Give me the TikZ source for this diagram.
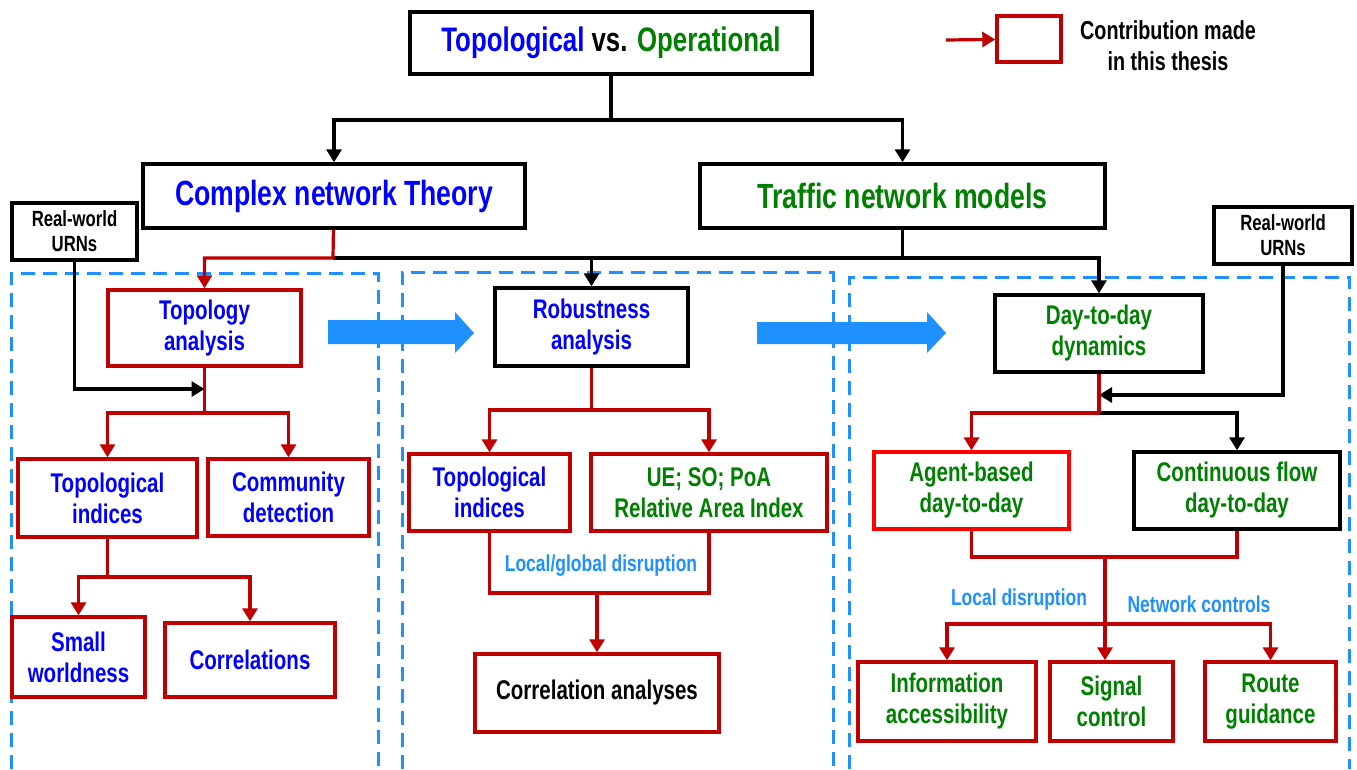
\documentclass[tikz,border=0pt]{standalone}
\usepackage{fontspec}
\setmainfont{Liberation Sans}[FakeStretch=0.76]
\usetikzlibrary{arrows.meta}
\definecolor{dred}{HTML}{C00000}
\definecolor{bred}{HTML}{FF0000}
\definecolor{tblue}{HTML}{0000FF}
\definecolor{tgreen}{HTML}{008000}
\definecolor{lblue}{HTML}{1E90FF}
\tikzset{
  box/.style={draw, line width=3.4pt, inner sep=0pt, align=center, font=\bfseries\fontsize{27}{31}\selectfont},
  rbox/.style={box, draw=dred},
  kbox/.style={box, draw=black},
  ln/.style={line width=3.2pt},
  rl/.style={ln, draw=dred},
  kl/.style={ln, draw=black},
  arr/.style={-{Triangle[length=13pt,width=15pt]}},
  lab/.style={text=lblue, font=\bfseries\fontsize{23}{27}\selectfont},
  region/.style={draw=lblue, line width=3pt, dash pattern=on 14pt off 8pt},
  bigarrow/.style={fill=lblue, draw=none}
}
\begin{document}
\begin{tikzpicture}[x=1pt, y=-1pt]
\useasboundingbox (0,0) rectangle (1357,769);

% dashed regions
\draw[region] (11,769) -- (11,273) -- (378,273) -- (378,769);
\draw[region] (402,769) -- (402,272) -- (833,272) -- (833,769);
\draw[region] (849,769) -- (849,277) -- (1349,277) -- (1349,769);

% big arrows
\path[bigarrow] (328,320) -- (455,320) -- (455,312) -- (474,333) -- (455,353) -- (455,344) -- (328,344) -- cycle;
\path[bigarrow] (757,322) -- (927,322) -- (927,312) -- (946,333) -- (927,353) -- (927,344) -- (757,344) -- cycle;

% top
\node[kbox, minimum width=402, minimum height=62, font=\bfseries\fontsize{34}{38}\selectfont] (title) at (611,43)
  {\textcolor{tblue}{Topological} vs. \textcolor{tgreen}{Operational}};
\node[kbox, minimum width=382, minimum height=64, text=tblue, font=\bfseries\fontsize{35}{40}\selectfont] (cnt) at (334,196) {Complex network Theory};
\node[kbox, minimum width=405, minimum height=64, text=tgreen, font=\bfseries\fontsize{35}{40}\selectfont] (tnm) at (902.5,196) {Traffic network models};

% legend
\node[rbox, minimum width=64, minimum height=46] (legbox) at (1029,39) {};
\coordinate (lg) at (946,40);
\node[font=\bfseries\fontsize{26}{31}\selectfont, align=center] (legtext) at (1168,46) {Contribution made\\in this thesis};

% real-world boxes
\node[kbox, minimum width=125, minimum height=57, font=\bfseries\fontsize{22}{25}\selectfont] (urnL) at (74.5,231.5) {Real-world\\URNs};
\node[kbox, minimum width=138, minimum height=57, font=\bfseries\fontsize{22}{25}\selectfont] (urnR) at (1283,235.5) {Real-world\\URNs};

% left column
\node[rbox, minimum width=193, minimum height=76, text=tblue] (topo) at (204.5,328) {Topology\\analysis};
\node[rbox, minimum width=179, minimum height=78, text=tblue] (ti1) at (107.5,498) {Topological\\indices};
\node[rbox, minimum width=161, minimum height=77, text=tblue] (comm) at (288.5,497.5) {Community\\detection};
\node[rbox, minimum width=133, minimum height=80, text=tblue] (small) at (78.5,657) {Small\\worldness};
\node[rbox, minimum width=170, minimum height=74, text=tblue] (corr) at (250,660) {Correlations};

% middle column
\node[kbox, minimum width=193, minimum height=78, text=tblue] (rob) at (591.5,327) {Robustness\\analysis};
\node[rbox, minimum width=161, minimum height=77, text=tblue] (ti2) at (489.5,492.5) {Topological\\indices};
\node[rbox, minimum width=236, minimum height=77, text=tgreen] (ue) at (709,492.5) {UE; SO; PoA\\Relative Area Index};
\node[rbox, minimum width=244, minimum height=78] (cana) at (597,693) {Correlation analyses};

% right column
\node[kbox, minimum width=208, minimum height=77, text=tgreen] (d2d) at (1099,333.5) {Day-to-day\\dynamics};
\node[box, draw=bred, minimum width=195, minimum height=77, text=tgreen] (agent) at (971.5,490.5) {Agent-based\\day-to-day};
\node[kbox, minimum width=206, minimum height=77, text=tgreen] (cont) at (1237,490.5) {Continuous flow\\day-to-day};
\node[rbox, minimum width=178, minimum height=79, text=tgreen] (info) at (947,701.5) {Information\\accessibility};
\node[rbox, minimum width=123, minimum height=79, text=tgreen] (sig) at (1111.5,701.5) {Signal\\control};
\node[rbox, minimum width=131, minimum height=79, text=tgreen] (route) at (1270.5,701.5) {Route\\guidance};

% labels
\node[lab] (l1) at (601,566) {Local/global disruption};
\node[lab] (l2) at (1019,600) {Local disruption};
\node[lab] (l3) at (1199,604) {Network controls};

% junction coordinates
\coordinate (j1) at (611,120);
\coordinate (j2) at (333,258);
\coordinate (j3) at (902.5,258);
\coordinate (j4) at (204.5,389);
\coordinate (j5) at (204.5,413);
\coordinate (j6) at (107.5,577);
\coordinate (j7) at (591.5,410);
\coordinate (j8) at (597,593);
\coordinate (j9) at (1099,395);
\coordinate (j10) at (1099,413);
\coordinate (j11) at (1105,557);
\coordinate (j12) at (1105,624);

% connectors: top
\draw[kl] (title) -- (j1);
\draw[kl, arr] (j1) -| (cnt);
\draw[kl, arr] (j1) -| (tnm);
\draw[kl] (tnm) -- (j3);
\draw[kl] (j3) -- (j2);
\draw[kl, arr] (j3) -| (rob);
\draw[kl, arr] (j3) -| (d2d);
\draw[rl, arr] (cnt) -- (j2) -| (topo);

% legend arrow
\draw[rl, arr] (lg) -- (legbox);

% left
\draw[rl] (topo) -- (j5);
\draw[kl, arr] (urnL) |- (j4);
\draw[rl, arr] (j5) -| (ti1);
\draw[rl, arr] (j5) -| (comm);
\draw[rl] (ti1) -- (j6);
\draw[rl, arr] (j6) -| (small);
\draw[rl, arr] (j6) -| (corr);

% middle
\draw[rl] (rob) -- (j7);
\draw[rl, arr] (j7) -| (ti2);
\draw[rl, arr] (j7) -| (ue);
\draw[rl] (ti2.south) -- (ti2.south |- j8) -- (ue.south |- j8) -- (ue.south);
\draw[rl, arr] (j8) -- (cana);

% right
\draw[kl, arr] (urnR) |- (j9);
\draw[kl, arr] (j10) -| (cont);
\draw[rl] (d2d) -- (j10);
\draw[rl, arr] (j10) -| (agent);
\draw[rl] (agent.south) -- (agent.south |- j11) -- (cont.south |- j11) -- (cont.south);
\draw[rl, arr] (j11) -- (j11 |- sig.north);
\draw[rl, arr] (j12) -| (info);
\draw[rl, arr] (j12) -| (route);
\end{tikzpicture}
\end{document}
